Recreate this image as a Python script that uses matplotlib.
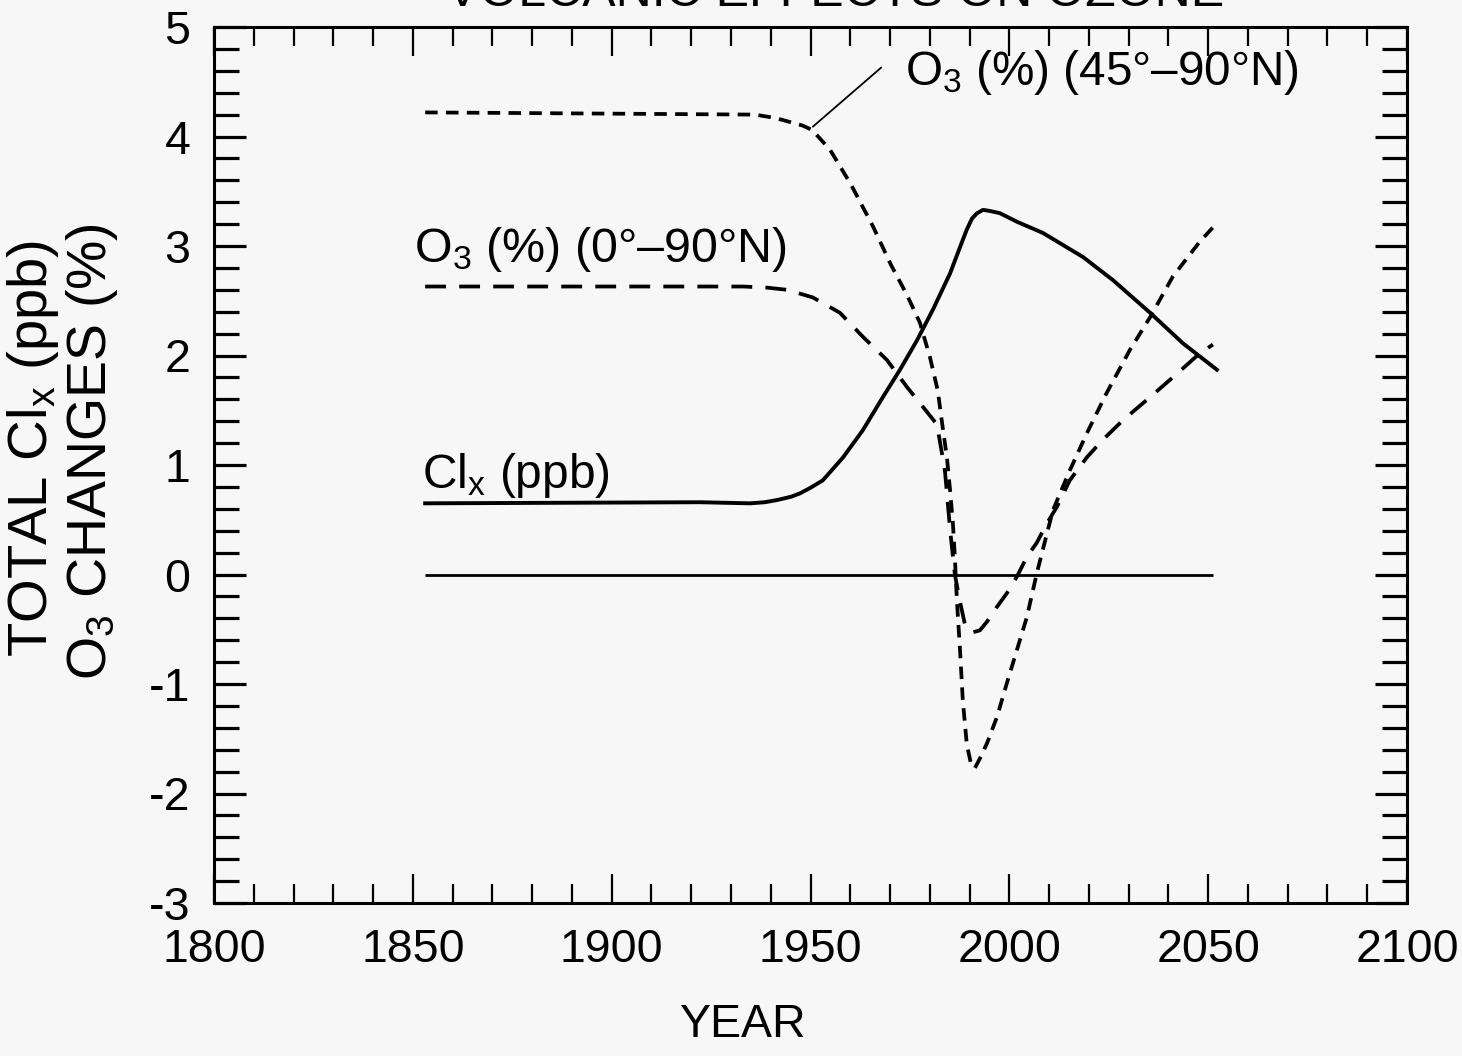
import matplotlib
matplotlib.use("Agg")
import matplotlib.pyplot as plt
from matplotlib.ticker import MultipleLocator, FixedLocator

plt.rcParams['font.family'] = ['Liberation Sans', 'DejaVu Sans']
plt.rcParams['mathtext.fontset'] = 'custom'
plt.rcParams['mathtext.rm'] = 'Liberation Sans'
plt.rcParams['mathtext.it'] = 'Liberation Sans'
plt.rcParams['lines.scale_dashes'] = False

# Total chlorine (ppb)
clx_years = [1853.1, 1922.2, 1934.8, 1938.5, 1941.6, 1945.1, 1947.3, 1949.9, 1953.1,
             1958.2, 1963.2, 1968.2, 1972.5, 1976.8, 1980.8, 1985.1, 1987.6, 1989.3,
             1990.6, 1991.9, 1993.4, 1995.1, 1997.6, 2002.0, 2008.4, 2018.5, 2026.0,
             2035.4, 2043.7, 2052.2]
clx_values = [0.65, 0.66, 0.65, 0.66, 0.68, 0.71, 0.74, 0.79, 0.86,
              1.07, 1.32, 1.62, 1.87, 2.14, 2.42, 2.75, 2.99, 3.15,
              3.25, 3.30, 3.33, 3.32, 3.30, 3.22, 3.12, 2.90, 2.69,
              2.39, 2.11, 1.87]

# Ozone change (%), 0-90N
o3_all_years = [1853.1, 1933.0, 1939.0, 1944.1, 1950.6, 1957.4, 1963.2, 1969.2, 1974.3,
                1978.3, 1981.8, 1983.8, 1985.1, 1986.3, 1987.6, 1988.8, 1990.6, 1992.6,
                1994.4, 1996.4, 1999.4, 2001.9, 2004.4, 2006.9, 2009.5, 2012.0, 2015.2,
                2019.5, 2023.5, 2028.6, 2035.4, 2041.1, 2047.9, 2051.2]
o3_all_values = [2.63, 2.63, 2.62, 2.60, 2.53, 2.39, 2.17, 1.96, 1.71,
                 1.53, 1.37, 0.95, 0.41, 0.00, -0.25, -0.45, -0.53, -0.51,
                 -0.43, -0.32, -0.17, -0.02, 0.16, 0.29, 0.47, 0.62, 0.86,
                 1.07, 1.23, 1.41, 1.62, 1.80, 2.02, 2.10]

# Ozone change (%), 45-90N
o3_high_years = [1853.1, 1936.0, 1941.0, 1945.1, 1948.0, 1950.4, 1954.9, 1960.2, 1965.7,
                 1970.2, 1974.3, 1977.5, 1980.0, 1982.0, 1983.1, 1984.3, 1985.1, 1985.8,
                 1986.3, 1986.8, 1987.6, 1988.3, 1989.3, 1990.3, 1991.3, 1992.6, 1994.4,
                 1996.9, 1999.4, 2001.9, 2004.4, 2006.9, 2009.5, 2011.0, 2015.2, 2019.5,
                 2024.5, 2030.3, 2035.4, 2041.1, 2047.9, 2051.2]
o3_high_values = [4.22, 4.20, 4.17, 4.13, 4.10, 4.06, 3.88, 3.56, 3.18,
                  2.83, 2.55, 2.30, 1.99, 1.68, 1.38, 1.07, 0.77, 0.47,
                  0.16, -0.23, -0.69, -1.15, -1.55, -1.72, -1.77, -1.68, -1.54,
                  -1.30, -0.99, -0.69, -0.39, 0.01, 0.38, 0.59, 0.95, 1.29,
                  1.66, 2.05, 2.35, 2.72, 3.04, 3.17]

zero_years = [1853.1, 2051.2]
zero_values = [0.0, 0.0]

x_ticks = [1800, 1850, 1900, 1950, 2000, 2050, 2100]
y_ticks = [-3, -2, -1, 0, 1, 2, 3, 4, 5]
y_tick_labels = ['-3', '-2', '-1', '0', '1', '2', '3', '4', '5']

bg = '#f7f7f7'
fig = plt.figure(figsize=(14.62, 10.56), dpi=100, facecolor=bg)
ax = fig.add_axes([214 / 1462, 1 - 903 / 1056, (1407 - 214) / 1462, (903 - 27) / 1056])
ax.set_facecolor(bg)

ax.plot(zero_years, zero_values, color='black', lw=2.0, solid_capstyle='butt')
ax.plot(clx_years, clx_values, color='black', lw=2.8, solid_joinstyle='round')
ax.plot(o3_all_years, o3_all_values, color='black', lw=2.7, dashes=(15, 9.5),
        dash_capstyle='butt')
ax.plot(o3_high_years, o3_high_values, color='black', lw=2.7, dashes=(9, 6),
        dash_capstyle='butt')

ax.set_xlim(1800, 2100)
ax.set_ylim(-3, 5)
ax.xaxis.set_major_locator(FixedLocator(x_ticks))
ax.xaxis.set_minor_locator(MultipleLocator(10))
ax.yaxis.set_major_locator(FixedLocator(y_ticks))
ax.yaxis.set_minor_locator(MultipleLocator(0.2))
ax.set_yticklabels(y_tick_labels)

for s in ax.spines.values():
    s.set_linewidth(2.2)

ax.tick_params(axis='x', which='major', direction='in', length=21, width=1.6,
               top=True, bottom=True, labelsize=33.5, pad=18)
ax.tick_params(axis='x', which='minor', direction='in', length=14, width=1.6,
               top=True, bottom=True)
ax.tick_params(axis='y', which='major', direction='in', length=23, width=2.3,
               left=True, right=True, labelsize=33.5, pad=17)
ax.tick_params(axis='y', which='minor', direction='in', length=18, width=2.3,
               left=True, right=True)

# Curve labels
ax.text(1850.3, 2.85, r'O$_3$ (%) (0°–90°N)', fontsize=34.8, ha='left', va='baseline')
ax.text(1852.3, 0.79, r'Cl$_{\rm x}$ (ppb)', fontsize=34.5, ha='left', va='baseline')
ax.annotate(r'O$_3$ (%) (45°–90°N)', xy=(1950.6, 4.09), xytext=(1973.7, 4.47),
            fontsize=34.3, ha='left', va='baseline',
            arrowprops=dict(arrowstyle='-', color='black', lw=1.3,
                            shrinkA=0, shrinkB=0, relpos=(-0.06, 0.6)))

fig.text(743 / 1462, 1 - 1025 / 1056, 'YEAR', fontsize=33.5, ha='center', va='center')
fig.text(33 / 1462, 1 - 448 / 1056, r'TOTAL Cl$_{\rm x}$ (ppb)', fontsize=40.5,
         rotation=90, ha='center', va='center')
fig.text(92 / 1462, 1 - 452 / 1056, r'O$_3$ CHANGES (%)', fontsize=40,
         rotation=90, ha='center', va='center')

fig.text(835 / 1462, 1 - 6 / 1056, 'VOLCANIC EFFECTS ON OZONE', fontsize=36,
         ha='center', va='baseline')

fig.savefig('out.png', dpi=100, facecolor=bg)
